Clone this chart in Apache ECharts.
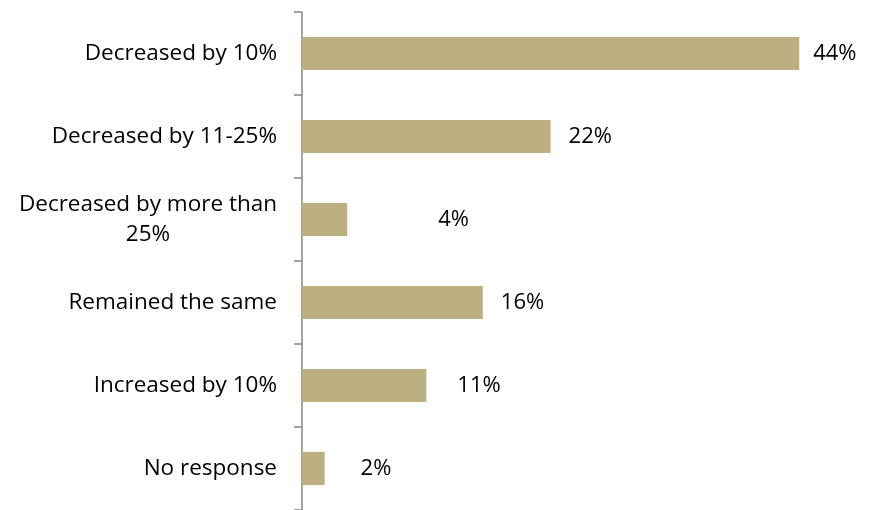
<!DOCTYPE html>
<html>
<head>
<meta charset="utf-8">
<script src="https://cdn.jsdelivr.net/npm/echarts@6/dist/echarts.min.js"></script>
<style>
  html, body { margin: 0; padding: 0; background: #fff; }
  #chart { width: 871px; height: 510px; }
</style>
</head>
<body>
<div id="chart"></div>
<script>
const categories = [
  "Decreased by 10%",
  "Decreased by 11-25%",
  "Decreased by more than\n25%",
  "Remained the same",
  "Increased by 10%",
  "No response"
]
const shares = [44, 22, 4, 16, 11, 2]
// gap between bar end and its label, as placed in the original
const labelGaps = [14, 18, 91, 18, 31, 36]

const font = "Open Sans"

const chart = echarts.init(document.getElementById("chart"))

const option = {
  backgroundColor: "#fff",
  animation: false,
  grid: { left: 302, right: 4, top: 12, bottom: 0, containLabel: false },
  xAxis: {
    type: "value",
    min: 0,
    max: 50,
    show: false
  },
  yAxis: {
    type: "category",
    inverse: true,
    data: categories,
    axisLine: { show: true, lineStyle: { color: "#868686", width: 1.5 } },
    axisTick: { show: true, length: 8, lineStyle: { color: "#868686", width: 1.5 } },
    axisLabel: {
      margin: 25,
      color: "#000",
      fontFamily: font,
      fontSize: 22.5,
      align: "right",
      formatter: v => "{c|" + v + "}",
      rich: { c: { align: "center", fontFamily: font, fontSize: 22.5, color: "#000", lineHeight: 30 } }
    }
  },
  series: [
    {
      type: "bar",
      barWidth: "40%",
      data: shares.map((v, i) => ({
        value: v,
        label: { distance: labelGaps[i] }
      })),
      itemStyle: { color: "#BCB083" },
      label: {
        show: true,
        position: "right",
        formatter: "{c}%",
        color: "#000",
        fontFamily: font,
        fontSize: 22
      }
    }
  ]
}

chart.setOption(option)
</script>
</body>
</html>
